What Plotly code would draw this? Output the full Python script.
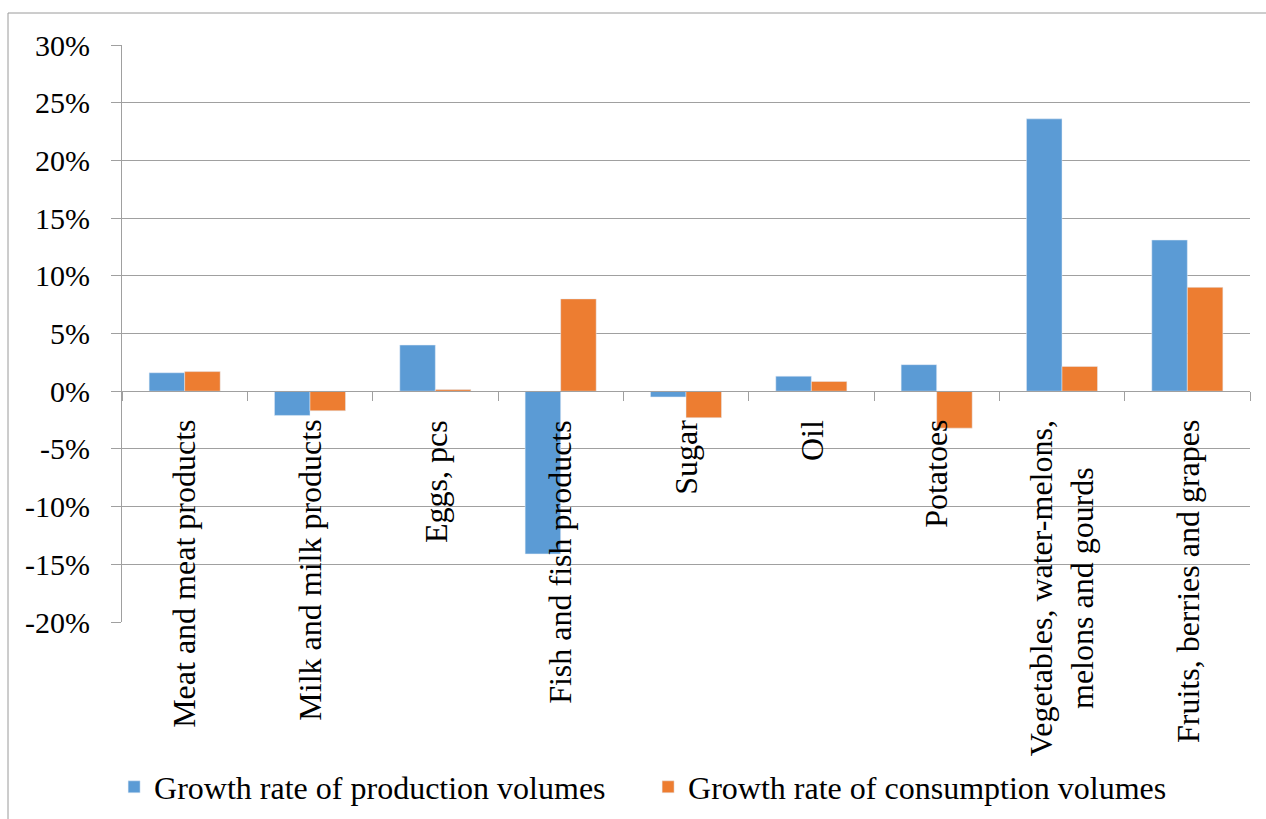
import plotly.graph_objects as go

# Food groups and annual growth rates (percent)
categories = [
    "Meat and meat products",
    "Milk and milk products",
    "Eggs, pcs",
    "Fish and fish products",
    "Sugar",
    "Oil",
    "Potatoes",
    "Vegetables, water-melons,<br>melons and gourds",
    "Fruits, berries and grapes",
]
production = [1.6, -2.1, 4.0, -14.1, -0.5, 1.3, 2.3, 23.6, 13.1]
consumption = [1.7, -1.7, 0.15, 8.0, -2.3, 0.85, -3.2, 2.15, 9.0]

series_names = ["Growth rate of production volumes", "Growth rate of consumption volumes"]
y_tick_vals = [-20, -15, -10, -5, 0, 5, 10, 15, 20, 25, 30]
y_tick_text = ["-20%", "-15%", "-10%", "-5%", "0%", "5%", "10%", "15%", "20%", "25%", "30%"]

W, H = 1266, 819
L, R, T, B = 122, 16, 45, 197
Y_MIN, Y_MAX = -20, 30
GRID = "#a0a0a0"
FONT = "Liberation Serif"
plot_w = W - L - R
plot_h = H - T - B

fig = go.Figure()
fig.add_bar(x=categories, y=production, name=series_names[0], marker_color="#5B9BD5")
fig.add_bar(x=categories, y=consumption, name=series_names[1], marker_color="#ED7D31")

# Category names hang below the zero line, rotated
for cat in categories:
    fig.add_annotation(
        x=cat, y=0, xref="x", yref="y", text=cat, showarrow=False,
        textangle=-90, xanchor="center", yanchor="top", yshift=-27,
        align="center", font=dict(family=FONT, size=32, color="black"),
    )

# Outer chart frame
fig.add_shape(
    type="rect", xref="paper", yref="paper",
    x0=(8 - L) / plot_w, x1=(W + 10 - L) / plot_w,
    y0=1 + (T - 13) / plot_h, y1=-(H + 10 - (T + plot_h)) / plot_h,
    line=dict(color="#9a9a9a", width=1), fillcolor="rgba(0,0,0,0)", layer="below",
)

fig.update_layout(
    width=W, height=H,
    margin=dict(l=L, r=R, t=T, b=B, pad=0, autoexpand=False),
    paper_bgcolor="white", plot_bgcolor="white",
    font=dict(family=FONT, size=32, color="black"),
    barmode="group", bargap=0.433, bargroupgap=0,
    showlegend=True,
    legend=dict(
        orientation="h", x=-0.007, xanchor="left", y=-0.286, yanchor="middle",
        font=dict(family=FONT, size=32, color="black"),
        entrywidth=489, entrywidthmode="pixels",
        bgcolor="rgba(0,0,0,0)", itemclick=False,
    ),
    xaxis=dict(
        type="category", range=[-0.5, len(categories) - 0.5],
        anchor="free", position=(0 - Y_MIN) / (Y_MAX - Y_MIN),
        showline=True, linecolor=GRID, linewidth=1,
        ticks="outside", tickson="boundaries", ticklen=9, tickcolor=GRID, tickwidth=1,
        showgrid=False, showticklabels=False, zeroline=False,
    ),
    yaxis=dict(
        range=[Y_MIN, Y_MAX], tickvals=y_tick_vals, ticktext=y_tick_text,
        showgrid=True, gridcolor=GRID, gridwidth=1,
        showline=True, linecolor=GRID, linewidth=1,
        ticks="outside", ticklen=10, tickcolor=GRID, tickwidth=1,
        zeroline=False, ticklabelstandoff=15,
        tickfont=dict(family=FONT, size=30, color="black"),
    ),
)

fig.write_html("out.html")
